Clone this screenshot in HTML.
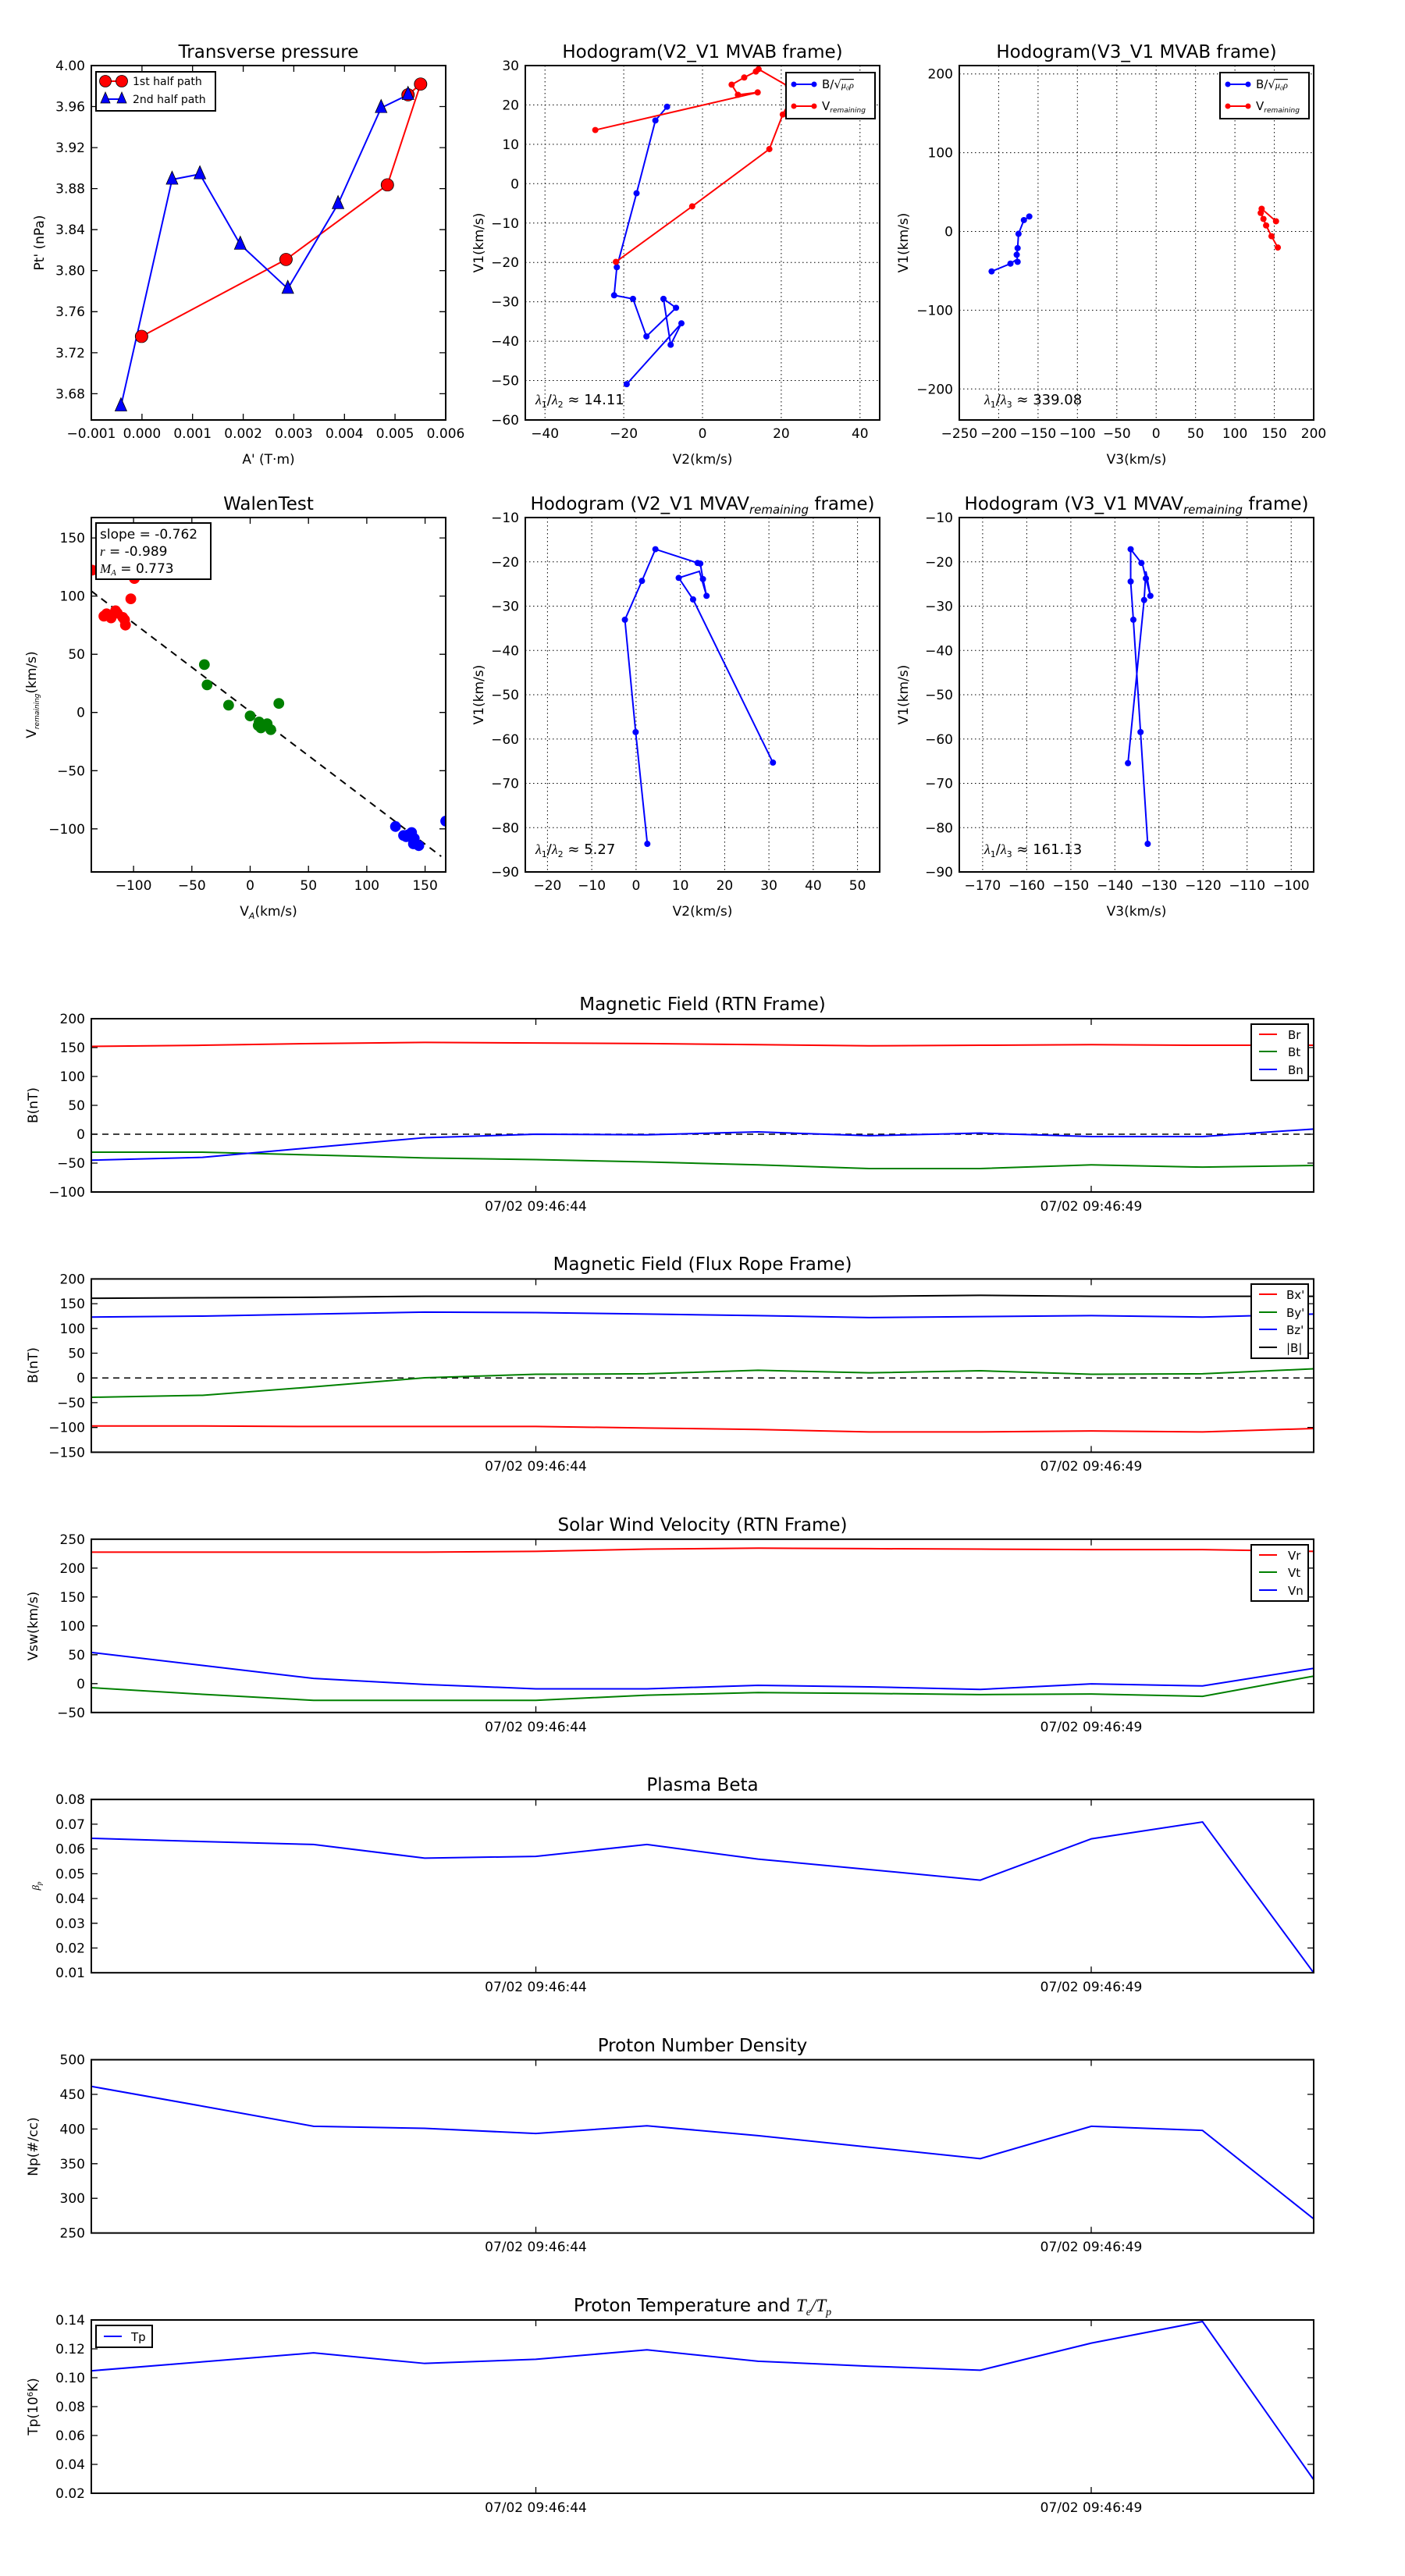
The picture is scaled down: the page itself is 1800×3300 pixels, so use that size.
<!DOCTYPE html>
<html><head><meta charset="utf-8"><style>
html,body{margin:0;padding:0;background:#fff}
svg{display:block}
text{font-family:"DejaVu Sans","Liberation Sans",sans-serif;fill:#000}
.t{font-size:17px}
.ti{font-size:23px;text-anchor:middle}
.lb{font-size:17px;text-anchor:middle}
.ax{fill:none;stroke:#000;stroke-width:2}
.tk{stroke:#000;stroke-width:1.3}
.gr{stroke:#000;stroke-width:1;stroke-dasharray:1.5,3.5}
.nl{vector-effect:non-scaling-stroke;fill:none;stroke-width:2}
</style></head><body>
<svg width="1800" height="3300" viewBox="0 0 1800 3300" xmlns="http://www.w3.org/2000/svg">
<defs>
<clipPath id="c1"><rect x="117" y="84" width="454" height="454"/></clipPath>
<clipPath id="c2"><rect x="673" y="84" width="454" height="454"/></clipPath>
<clipPath id="c3"><rect x="1229" y="84" width="454" height="454"/></clipPath>
<clipPath id="c4"><rect x="117" y="663" width="454" height="454"/></clipPath>
<clipPath id="c5"><rect x="673" y="663" width="454" height="454"/></clipPath>
<clipPath id="c6"><rect x="1229" y="663" width="454" height="454"/></clipPath>
<clipPath id="ct"><rect x="117" y="0" width="1566" height="3300"/></clipPath>
</defs>

<!-- ============ PANEL 1 ============ -->
<text class="ti" x="344" y="74">Transverse pressure</text>
<g class="tk">
<path d="M181.9,538v-8M246.7,538v-8M311.6,538v-8M376.4,538v-8M441.3,538v-8M506.1,538v-8M181.9,84v8M246.7,84v8M311.6,84v8M376.4,84v8M441.3,84v8M506.1,84v8"/>
<path d="M117,136.5h8M117,189.1h8M117,241.6h8M117,294.2h8M117,346.7h8M117,399.3h8M117,451.9h8M117,504.4h8M571,136.5h-8M571,189.1h-8M571,241.6h-8M571,294.2h-8M571,346.7h-8M571,399.3h-8M571,451.9h-8M571,504.4h-8"/>
</g>
<g class="t" text-anchor="middle">
<text x="117" y="561">−0.001</text><text x="181.9" y="561">0.000</text><text x="246.7" y="561">0.001</text><text x="311.6" y="561">0.002</text><text x="376.4" y="561">0.003</text><text x="441.3" y="561">0.004</text><text x="506.1" y="561">0.005</text><text x="571" y="561">0.006</text>
</g>
<g class="t" text-anchor="end">
<text x="109" y="90">4.00</text><text x="109" y="142.5">3.96</text><text x="109" y="195">3.92</text><text x="109" y="247.6">3.88</text><text x="109" y="300">3.84</text><text x="109" y="352.7">3.80</text><text x="109" y="405">3.76</text><text x="109" y="458">3.72</text><text x="109" y="510.4">3.68</text>
</g>
<text class="lb" x="344" y="594">A' (T·m)</text>
<text class="lb" transform="translate(56,311) rotate(-90)">Pt' (nPa)</text>
<g clip-path="url(#c1)"><g transform="translate(117,84) scale(1.1494,0.7643) translate(-102,-108)">
<polyline class="nl" stroke="#f00" points="158,562 319,433 432,308 469,139 455,157"/>
<polyline class="nl" stroke="#00f" points="455,157 425,179 377,340 321,482 268,408 223,290 192,299 135,679"/>
<g fill="#f00" stroke="#000" stroke-width="0.8" style="vector-effect:non-scaling-stroke">
<ellipse cx="158" cy="562" rx="6.96" ry="10.47"/><ellipse cx="319" cy="433" rx="6.96" ry="10.47"/><ellipse cx="432" cy="308" rx="6.96" ry="10.47"/><ellipse cx="469" cy="139" rx="6.96" ry="10.47"/><ellipse cx="455" cy="157" rx="6.96" ry="10.47"/>
</g>
<g fill="#00f" stroke="#000" stroke-width="0.8">
<polygon transform="translate(455,157)" points="0,-14 -6.5,8 6.5,8"/>
<polygon transform="translate(425,179)" points="0,-14 -6.5,8 6.5,8"/>
<polygon transform="translate(377,340)" points="0,-14 -6.5,8 6.5,8"/>
<polygon transform="translate(321,482)" points="0,-14 -6.5,8 6.5,8"/>
<polygon transform="translate(268,408)" points="0,-14 -6.5,8 6.5,8"/>
<polygon transform="translate(223,290)" points="0,-14 -6.5,8 6.5,8"/>
<polygon transform="translate(192,299)" points="0,-14 -6.5,8 6.5,8"/>
<polygon transform="translate(135,679)" points="0,-14 -6.5,8 6.5,8"/>
</g>
</g></g>
<rect class="ax" x="117" y="84" width="454" height="454"/>
<rect x="123" y="92" width="153" height="50" fill="#fff" stroke="#000" stroke-width="2"/>
<line x1="135" y1="104" x2="156" y2="104" stroke="#f00" stroke-width="2"/>
<circle cx="135" cy="104" r="7.5" fill="#f00" stroke="#000" stroke-width="0.8"/><circle cx="156" cy="104" r="7.5" fill="#f00" stroke="#000" stroke-width="0.8"/>
<line x1="135" y1="127" x2="156" y2="127" stroke="#00f" stroke-width="2"/>
<polygon points="135,118 129,132 141,132" fill="#00f" stroke="#000" stroke-width="0.8"/><polygon points="156,118 150,132 162,132" fill="#00f" stroke="#000" stroke-width="0.8"/>
<text x="170" y="109" style="font-size:14px">1st half path</text>
<text x="170" y="132" style="font-size:14px">2nd half path</text>

<!-- ============ PANEL 2 ============ -->
<text class="ti" x="900" y="74">Hodogram(V2_V1 MVAB frame)</text>
<g class="gr">
<path d="M698.2,84V538M799.1,84V538M900,84V538M1000.9,84V538M1101.8,84V538"/>
<path d="M673,134.4H1127M673,184.9H1127M673,235.3H1127M673,285.8H1127M673,336.2H1127M673,386.6H1127M673,437.1H1127M673,487.5H1127"/>
</g>
<g class="t" text-anchor="middle"><text x="698.2" y="561">−40</text><text x="799.1" y="561">−20</text><text x="900" y="561">0</text><text x="1000.9" y="561">20</text><text x="1101.8" y="561">40</text></g>
<g class="t" text-anchor="end"><text x="665" y="90">30</text><text x="665" y="140.4">20</text><text x="665" y="190.9">10</text><text x="665" y="241.3">0</text><text x="665" y="291.8">−10</text><text x="665" y="342.2">−20</text><text x="665" y="392.6">−30</text><text x="665" y="443.1">−40</text><text x="665" y="493.5">−50</text><text x="665" y="544">−60</text></g>
<text class="lb" x="900" y="594">V2(km/s)</text>
<text class="lb" transform="translate(619,311) rotate(-90)">V1(km/s)</text>
<g clip-path="url(#c2)"><g transform="translate(673,84) scale(1.1494,0.7643) translate(-586,-108)">
<polyline class="nl" stroke="#00f" points="744,177 731,200 710,322 688,446 685,493 706,499 721,562 754,514 740,499 748,576 760,540 699,642"/>
<polyline class="nl" stroke="#f00" points="664,216 845,153 823,157 816,140 830,128 843,118 846,114 876,140 880,170 873,190 858,248 772,344 687,437"/>
<g fill="#00f"><ellipse cx="744" cy="177" rx="3.5" ry="5.2"/><ellipse cx="731" cy="200" rx="3.5" ry="5.2"/><ellipse cx="710" cy="322" rx="3.5" ry="5.2"/><ellipse cx="688" cy="446" rx="3.5" ry="5.2"/><ellipse cx="685" cy="493" rx="3.5" ry="5.2"/><ellipse cx="706" cy="499" rx="3.5" ry="5.2"/><ellipse cx="721" cy="562" rx="3.5" ry="5.2"/><ellipse cx="754" cy="514" rx="3.5" ry="5.2"/><ellipse cx="740" cy="499" rx="3.5" ry="5.2"/><ellipse cx="748" cy="576" rx="3.5" ry="5.2"/><ellipse cx="760" cy="540" rx="3.5" ry="5.2"/><ellipse cx="699" cy="642" rx="3.5" ry="5.2"/></g>
<g fill="#f00"><ellipse cx="664" cy="216" rx="3.5" ry="5.2"/><ellipse cx="845" cy="153" rx="3.5" ry="5.2"/><ellipse cx="823" cy="157" rx="3.5" ry="5.2"/><ellipse cx="816" cy="140" rx="3.5" ry="5.2"/><ellipse cx="830" cy="128" rx="3.5" ry="5.2"/><ellipse cx="843" cy="118" rx="3.5" ry="5.2"/><ellipse cx="846" cy="114" rx="3.5" ry="5.2"/><ellipse cx="873" cy="190" rx="3.5" ry="5.2"/><ellipse cx="858" cy="248" rx="3.5" ry="5.2"/><ellipse cx="772" cy="344" rx="3.5" ry="5.2"/><ellipse cx="687" cy="437" rx="3.5" ry="5.2"/></g>
</g></g>
<rect class="ax" x="673" y="84" width="454" height="454"/>
<text x="686" y="518" style="font-size:18px"><tspan font-style="italic" font-family="Liberation Serif">λ</tspan><tspan font-size="11" dy="4">1</tspan><tspan dy="-4">/</tspan><tspan font-style="italic" font-family="Liberation Serif">λ</tspan><tspan font-size="11" dy="4">2</tspan><tspan dy="-4"> ≈ 14.11</tspan></text>
<rect x="1007" y="93" width="114" height="59" fill="#fff" stroke="#000" stroke-width="2"/>
<line x1="1017" y1="108" x2="1043" y2="108" stroke="#00f" stroke-width="2"/><circle cx="1017" cy="108" r="3.5" fill="#00f"/><circle cx="1043" cy="108" r="3.5" fill="#00f"/>
<line x1="1017" y1="136" x2="1043" y2="136" stroke="#f00" stroke-width="2"/><circle cx="1017" cy="136" r="3.5" fill="#f00"/><circle cx="1043" cy="136" r="3.5" fill="#f00"/>
<text x="1053" y="113" style="font-size:15px">B/√<tspan font-style="italic" font-size="12" font-family="Liberation Serif" text-decoration="overline">μ₀ρ</tspan></text>
<text x="1053" y="141" style="font-size:15px">V<tspan font-size="9" font-style="italic" dy="3">remaining</tspan></text>

<!-- ============ PANEL 3 ============ -->
<text class="ti" x="1456" y="74">Hodogram(V3_V1 MVAB frame)</text>
<g class="gr">
<path d="M1279.4,84V538M1329.9,84V538M1380.3,84V538M1430.8,84V538M1481.2,84V538M1531.7,84V538M1582.1,84V538M1632.6,84V538"/>
<path d="M1229,94.7H1683M1229,195.6H1683M1229,296.5H1683M1229,397.4H1683M1229,498.3H1683"/>
</g>
<g class="t" text-anchor="middle"><text x="1229" y="561">−250</text><text x="1279.4" y="561">−200</text><text x="1329.9" y="561">−150</text><text x="1380.3" y="561">−100</text><text x="1430.8" y="561">−50</text><text x="1481.2" y="561">0</text><text x="1531.7" y="561">50</text><text x="1582.1" y="561">100</text><text x="1632.6" y="561">150</text><text x="1683" y="561">200</text></g>
<g class="t" text-anchor="end"><text x="1221" y="100.7">200</text><text x="1221" y="201.6">100</text><text x="1221" y="302.5">0</text><text x="1221" y="403.4">−100</text><text x="1221" y="504.3">−200</text></g>
<text class="lb" x="1456" y="594">V3(km/s)</text>
<text class="lb" transform="translate(1163,311) rotate(-90)">V1(km/s)</text>
<g clip-path="url(#c3)"><g transform="translate(1229,84) scale(1.1494,0.7643) translate(-1070,-108)">
<polyline class="nl" stroke="#00f" points="1148,361 1142,367 1136,390 1135,414 1134,425 1135,437 1133,434 1127,440 1106,453"/>
<polyline class="nl" stroke="#f00" points="1423,369 1407,348 1406,355 1409,365 1412,376 1418,394 1425,413"/>
<g fill="#00f"><ellipse cx="1148" cy="361" rx="3.5" ry="5.2"/><ellipse cx="1142" cy="367" rx="3.5" ry="5.2"/><ellipse cx="1136" cy="390" rx="3.5" ry="5.2"/><ellipse cx="1135" cy="414" rx="3.5" ry="5.2"/><ellipse cx="1134" cy="425" rx="3.5" ry="5.2"/><ellipse cx="1135" cy="437" rx="3.5" ry="5.2"/><ellipse cx="1127" cy="440" rx="3.5" ry="5.2"/><ellipse cx="1106" cy="453" rx="3.5" ry="5.2"/></g>
<g fill="#f00"><ellipse cx="1423" cy="369" rx="3.5" ry="5.2"/><ellipse cx="1407" cy="348" rx="3.5" ry="5.2"/><ellipse cx="1406" cy="355" rx="3.5" ry="5.2"/><ellipse cx="1409" cy="365" rx="3.5" ry="5.2"/><ellipse cx="1412" cy="376" rx="3.5" ry="5.2"/><ellipse cx="1418" cy="394" rx="3.5" ry="5.2"/><ellipse cx="1425" cy="413" rx="3.5" ry="5.2"/></g>
</g></g>
<rect class="ax" x="1229" y="84" width="454" height="454"/>
<text x="1261" y="518" style="font-size:18px"><tspan font-style="italic" font-family="Liberation Serif">λ</tspan><tspan font-size="11" dy="4">1</tspan><tspan dy="-4">/</tspan><tspan font-style="italic" font-family="Liberation Serif">λ</tspan><tspan font-size="11" dy="4">3</tspan><tspan dy="-4"> ≈ 339.08</tspan></text>
<rect x="1563" y="93" width="114" height="59" fill="#fff" stroke="#000" stroke-width="2"/>
<line x1="1573" y1="108" x2="1599" y2="108" stroke="#00f" stroke-width="2"/><circle cx="1573" cy="108" r="3.5" fill="#00f"/><circle cx="1599" cy="108" r="3.5" fill="#00f"/>
<line x1="1573" y1="136" x2="1599" y2="136" stroke="#f00" stroke-width="2"/><circle cx="1573" cy="136" r="3.5" fill="#f00"/><circle cx="1599" cy="136" r="3.5" fill="#f00"/>
<text x="1609" y="113" style="font-size:15px">B/√<tspan font-style="italic" font-size="12" font-family="Liberation Serif" text-decoration="overline">μ₀ρ</tspan></text>
<text x="1609" y="141" style="font-size:15px">V<tspan font-size="9" font-style="italic" dy="3">remaining</tspan></text>

<!-- ============ PANEL 4 WALEN ============ -->
<text class="ti" x="344" y="653">WalenTest</text>
<g class="tk">
<path d="M171.1,1117v-8M245.8,1117v-8M320.5,1117v-8M395.2,1117v-8M469.9,1117v-8M544.6,1117v-8M171.1,663v8M245.8,663v8M320.5,663v8M395.2,663v8M469.9,663v8M544.6,663v8"/>
<path d="M117,689.1h8M117,763.6h8M117,838.2h8M117,912.7h8M117,987.3h8M117,1061.8h8M571,689.1h-8M571,763.6h-8M571,838.2h-8M571,912.7h-8M571,987.3h-8M571,1061.8h-8"/>
</g>
<g class="t" text-anchor="middle"><text x="171.1" y="1140">−100</text><text x="245.8" y="1140">−50</text><text x="320.5" y="1140">0</text><text x="395.2" y="1140">50</text><text x="469.9" y="1140">100</text><text x="544.6" y="1140">150</text></g>
<g class="t" text-anchor="end"><text x="109" y="695.1">150</text><text x="109" y="769.6">100</text><text x="109" y="844.2">50</text><text x="109" y="918.7">0</text><text x="109" y="993.3">−50</text><text x="109" y="1067.8">−100</text></g>
<text class="lb" x="344" y="1173">V<tspan font-size="11" font-style="italic" dy="4">A</tspan><tspan dy="-4">(km/s)</tspan></text>
<text class="lb" transform="translate(46,890) rotate(-90)">V<tspan font-size="9" font-style="italic" dy="4">remaining</tspan><tspan dy="-4">(km/s)</tspan></text>
<g clip-path="url(#c4)"><g transform="translate(117,663) scale(1.1494,0.7656) translate(-102,-865)">
<line class="nl" x1="102" y1="988" x2="492" y2="1432" stroke="#000" stroke-dasharray="9,7"/>
<g fill="#f00"><ellipse cx="103" cy="953" rx="6" ry="9"/><ellipse cx="116" cy="1030" rx="6" ry="9"/><ellipse cx="119" cy="1026" rx="6" ry="9"/><ellipse cx="124" cy="1033" rx="6" ry="9"/><ellipse cx="129" cy="1021" rx="6" ry="9"/><ellipse cx="131" cy="1025" rx="6" ry="9"/><ellipse cx="137" cy="1032" rx="6" ry="9"/><ellipse cx="140" cy="1045" rx="6" ry="9"/><ellipse cx="139" cy="1036" rx="6" ry="9"/><ellipse cx="146" cy="1001" rx="6" ry="9"/><ellipse cx="150" cy="967" rx="6" ry="9"/></g>
<g fill="#008000"><ellipse cx="228" cy="1111" rx="6" ry="9"/><ellipse cx="231" cy="1145" rx="6" ry="9"/><ellipse cx="255" cy="1179" rx="6" ry="9"/><ellipse cx="279" cy="1197" rx="6" ry="9"/><ellipse cx="289" cy="1207" rx="6" ry="9"/><ellipse cx="291" cy="1217" rx="6" ry="9"/><ellipse cx="298" cy="1210" rx="6" ry="9"/><ellipse cx="302" cy="1220" rx="6" ry="9"/><ellipse cx="311" cy="1176" rx="6" ry="9"/><ellipse cx="288" cy="1213" rx="6" ry="9"/></g>
<g fill="#00f"><ellipse cx="441" cy="1382" rx="6" ry="9"/><ellipse cx="450" cy="1397" rx="6" ry="9"/><ellipse cx="455" cy="1396" rx="6" ry="9"/><ellipse cx="459" cy="1392" rx="6" ry="9"/><ellipse cx="462" cy="1402" rx="6" ry="9"/><ellipse cx="463" cy="1410" rx="6" ry="9"/><ellipse cx="467" cy="1414" rx="6" ry="9"/><ellipse cx="497" cy="1373" rx="6" ry="9"/><ellipse cx="453" cy="1399" rx="6" ry="9"/><ellipse cx="461" cy="1411" rx="6" ry="9"/></g>
</g></g>
<rect class="ax" x="117" y="663" width="454" height="454"/>
<rect x="123" y="670" width="147" height="72" fill="#fff" stroke="#000" stroke-width="2"/>
<text x="128" y="690" style="font-size:17px">slope = -0.762</text>
<text x="128" y="712" style="font-size:17px"><tspan font-style="italic" font-family="Liberation Serif">r</tspan> = -0.989</text>
<text x="128" y="734" style="font-size:17px"><tspan font-style="italic" font-family="Liberation Serif">M<tspan font-size="11" dy="3">A</tspan></tspan><tspan dy="-3"> = 0.773</tspan></text>

<!-- ============ PANEL 5 ============ -->
<text class="ti" x="900" y="653">Hodogram (V2_V1 MVAV<tspan font-size="15" font-style="italic" dy="5">remaining</tspan><tspan dy="-5"> frame)</tspan></text>
<g class="gr">
<path d="M701.4,663V1117M758.1,663V1117M814.9,663V1117M871.6,663V1117M928.4,663V1117M985.1,663V1117M1041.9,663V1117M1098.6,663V1117"/>
<path d="M673,719.75H1127M673,776.5H1127M673,833.25H1127M673,890H1127M673,946.75H1127M673,1003.5H1127M673,1060.25H1127"/>
</g>
<g class="t" text-anchor="middle"><text x="701.4" y="1140">−20</text><text x="758.1" y="1140">−10</text><text x="814.9" y="1140">0</text><text x="871.6" y="1140">10</text><text x="928.4" y="1140">20</text><text x="985.1" y="1140">30</text><text x="1041.9" y="1140">40</text><text x="1098.6" y="1140">50</text></g>
<g class="t" text-anchor="end"><text x="665" y="669">−10</text><text x="665" y="725.75">−20</text><text x="665" y="782.5">−30</text><text x="665" y="839.25">−40</text><text x="665" y="896">−50</text><text x="665" y="952.75">−60</text><text x="665" y="1009.5">−70</text><text x="665" y="1066.25">−80</text><text x="665" y="1123">−90</text></g>
<text class="lb" x="900" y="1173">V2(km/s)</text>
<text class="lb" transform="translate(619,890) rotate(-90)">V1(km/s)</text>
<g clip-path="url(#c5)"><g transform="translate(673,663) scale(1.1494,0.7656) translate(-586,-865)">
<polyline class="nl" stroke="#00f" points="722,1411 709,1224 697,1036 716,971 731,918 778,941 781,942 784,968 788,996 780,955 757,966 773,1002 862,1275"/>
<g fill="#00f"><ellipse cx="722" cy="1411" rx="3.5" ry="5.2"/><ellipse cx="709" cy="1224" rx="3.5" ry="5.2"/><ellipse cx="697" cy="1036" rx="3.5" ry="5.2"/><ellipse cx="716" cy="971" rx="3.5" ry="5.2"/><ellipse cx="731" cy="918" rx="3.5" ry="5.2"/><ellipse cx="778" cy="941" rx="3.5" ry="5.2"/><ellipse cx="781" cy="942" rx="3.5" ry="5.2"/><ellipse cx="784" cy="968" rx="3.5" ry="5.2"/><ellipse cx="788" cy="996" rx="3.5" ry="5.2"/><ellipse cx="757" cy="966" rx="3.5" ry="5.2"/><ellipse cx="773" cy="1002" rx="3.5" ry="5.2"/><ellipse cx="862" cy="1275" rx="3.5" ry="5.2"/></g>
</g></g>
<rect class="ax" x="673" y="663" width="454" height="454"/>
<text x="686" y="1094" style="font-size:18px"><tspan font-style="italic" font-family="Liberation Serif">λ</tspan><tspan font-size="11" dy="4">1</tspan><tspan dy="-4">/</tspan><tspan font-style="italic" font-family="Liberation Serif">λ</tspan><tspan font-size="11" dy="4">2</tspan><tspan dy="-4"> ≈ 5.27</tspan></text>

<!-- ============ PANEL 6 ============ -->
<text class="ti" x="1456" y="653">Hodogram (V3_V1 MVAV<tspan font-size="15" font-style="italic" dy="5">remaining</tspan><tspan dy="-5"> frame)</tspan></text>
<g class="gr">
<path d="M1258.9,663V1117M1315.4,663V1117M1371.9,663V1117M1428.3,663V1117M1484.8,663V1117M1541.3,663V1117M1597.7,663V1117M1654.2,663V1117"/>
<path d="M1229,719.75H1683M1229,776.5H1683M1229,833.25H1683M1229,890H1683M1229,946.75H1683M1229,1003.5H1683M1229,1060.25H1683"/>
</g>
<g class="t" text-anchor="middle"><text x="1258.9" y="1140">−170</text><text x="1315.4" y="1140">−160</text><text x="1371.9" y="1140">−150</text><text x="1428.3" y="1140">−140</text><text x="1484.8" y="1140">−130</text><text x="1541.3" y="1140">−120</text><text x="1597.7" y="1140">−110</text><text x="1654.2" y="1140">−100</text></g>
<g class="t" text-anchor="end"><text x="1221" y="669">−10</text><text x="1221" y="725.75">−20</text><text x="1221" y="782.5">−30</text><text x="1221" y="839.25">−40</text><text x="1221" y="896">−50</text><text x="1221" y="952.75">−60</text><text x="1221" y="1009.5">−70</text><text x="1221" y="1066.25">−80</text><text x="1221" y="1123">−90</text></g>
<text class="lb" x="1456" y="1173">V3(km/s)</text>
<text class="lb" transform="translate(1163,890) rotate(-90)">V1(km/s)</text>
<g clip-path="url(#c6)"><g transform="translate(1229,663) scale(1.1494,0.7656) translate(-1070,-865)">
<polyline class="nl" stroke="#00f" points="1280,1411 1272,1224 1264,1036 1261,972 1261,918 1273,941 1274,942 1278,967 1283,996 1278,955 1276,1003 1258,1276"/>
<g fill="#00f"><ellipse cx="1280" cy="1411" rx="3.5" ry="5.2"/><ellipse cx="1272" cy="1224" rx="3.5" ry="5.2"/><ellipse cx="1264" cy="1036" rx="3.5" ry="5.2"/><ellipse cx="1261" cy="972" rx="3.5" ry="5.2"/><ellipse cx="1261" cy="918" rx="3.5" ry="5.2"/><ellipse cx="1273" cy="941" rx="3.5" ry="5.2"/><ellipse cx="1278" cy="967" rx="3.5" ry="5.2"/><ellipse cx="1283" cy="996" rx="3.5" ry="5.2"/><ellipse cx="1276" cy="1003" rx="3.5" ry="5.2"/><ellipse cx="1258" cy="1276" rx="3.5" ry="5.2"/></g>
</g></g>
<rect class="ax" x="1229" y="663" width="454" height="454"/>
<text x="1261" y="1094" style="font-size:18px"><tspan font-style="italic" font-family="Liberation Serif">λ</tspan><tspan font-size="11" dy="4">1</tspan><tspan dy="-4">/</tspan><tspan font-style="italic" font-family="Liberation Serif">λ</tspan><tspan font-size="11" dy="4">3</tspan><tspan dy="-4"> ≈ 161.13</tspan></text>

<!-- ============ TIME SERIES ============ -->
<!-- Plot 1 -->
<text class="ti" x="900" y="1294">Magnetic Field (RTN Frame)</text>
<g class="tk"><path d="M686.5,1527v-8M1398,1527v-8M686.5,1305v8M1398,1305v8M117,1342h8M117,1379h8M117,1416h8M117,1453h8M117,1490h8M1683,1342h-8M1683,1379h-8M1683,1416h-8M1683,1453h-8M1683,1490h-8"/></g>
<g class="t" text-anchor="end"><text x="109" y="1311">200</text><text x="109" y="1348">150</text><text x="109" y="1385">100</text><text x="109" y="1422">50</text><text x="109" y="1459">0</text><text x="109" y="1496">−50</text><text x="109" y="1533">−100</text></g>
<g class="t" text-anchor="middle"><text x="686.5" y="1551">07/02 09:46:44</text><text x="1398" y="1551">07/02 09:46:49</text></g>
<text class="lb" transform="translate(48,1416) rotate(-90)">B(nT)</text>
<line x1="117" y1="1453" x2="1683" y2="1453" stroke="#000" stroke-width="1.5" stroke-dasharray="8,6"/>
<g clip-path="url(#ct)"><g transform="translate(117,1305) scale(142.36,-0.74) translate(0,-200)">
<polyline class="nl" stroke="#f00" points="0,152 1,154 2,157 3,159 4,158 5,157 6,155 7,153 8,154 9,155 10,154 11,154"/>
<polyline class="nl" stroke="#008000" points="0,-31 1,-31 2,-36 3,-41 4,-44 5,-48 6,-53 7,-59.5 8,-59.5 9,-53 10,-57 11,-54"/>
<polyline class="nl" stroke="#00f" points="0,-45 1,-40 2,-23 3,-6 4,0 5,-1 6,4 7,-2.6 8,2 9,-4 10,-4 11,9"/>
</g></g>
<rect class="ax" x="117" y="1305" width="1566" height="222"/>
<rect x="1603" y="1312" width="73" height="72" fill="#fff" stroke="#000" stroke-width="2"/>
<path d="M1613,1325h23" stroke="#f00" stroke-width="2"/><path d="M1613,1347h23" stroke="#008000" stroke-width="2"/><path d="M1613,1370h23" stroke="#00f" stroke-width="2"/>
<g style="font-size:15px"><text x="1650" y="1331">Br</text><text x="1650" y="1353">Bt</text><text x="1650" y="1376">Bn</text></g>

<!-- Plot 2 -->
<text class="ti" x="900" y="1627">Magnetic Field (Flux Rope Frame)</text>
<g class="tk"><path d="M686.5,1860.4v-8M1398,1860.4v-8M686.5,1638.4v8M1398,1638.4v8M117,1670.1h8M117,1701.8h8M117,1733.5h8M117,1765.2h8M117,1796.9h8M117,1828.7h8M1683,1670.1h-8M1683,1701.8h-8M1683,1733.5h-8M1683,1765.2h-8M1683,1796.9h-8M1683,1828.7h-8"/></g>
<g class="t" text-anchor="end"><text x="109" y="1644.4">200</text><text x="109" y="1676.1">150</text><text x="109" y="1707.8">100</text><text x="109" y="1739.5">50</text><text x="109" y="1771.2">0</text><text x="109" y="1802.9">−50</text><text x="109" y="1834.7">−100</text><text x="109" y="1866.4">−150</text></g>
<g class="t" text-anchor="middle"><text x="686.5" y="1884">07/02 09:46:44</text><text x="1398" y="1884">07/02 09:46:49</text></g>
<text class="lb" transform="translate(48,1749) rotate(-90)">B(nT)</text>
<line x1="117" y1="1765.2" x2="1683" y2="1765.2" stroke="#000" stroke-width="1.5" stroke-dasharray="8,6"/>
<g clip-path="url(#ct)"><g transform="translate(117,1638.4) scale(142.36,-0.6343) translate(0,-200)">
<polyline class="nl" stroke="#f00" points="0,-97 1,-97 2,-98 3,-98 4,-98 5,-101 6,-104 7,-109 8,-109 9,-107 10,-109 11,-102"/>
<polyline class="nl" stroke="#008000" points="0,-39 1,-35 2,-18 3,0.4 4,7.5 5,8.4 6,15.5 7,10.4 8,14.5 9,7.5 10,8.4 11,18.5"/>
<polyline class="nl" stroke="#00f" points="0,123 1,125 2,129 3,133 4,132 5,129 6,126 7,122 8,124 9,126 10,123 11,129"/>
<polyline class="nl" stroke="#000" points="0,161 1,162 2,163 3,165 4,165 5,165 6,165 7,165 8,167 9,165 10,165 11,165"/>
</g></g>
<rect class="ax" x="117" y="1638.4" width="1566" height="222"/>
<rect x="1603" y="1645" width="73" height="95" fill="#fff" stroke="#000" stroke-width="2"/>
<path d="M1613,1658h23" stroke="#f00" stroke-width="2"/><path d="M1613,1681h23" stroke="#008000" stroke-width="2"/><path d="M1613,1703h23" stroke="#00f" stroke-width="2"/><path d="M1613,1726h23" stroke="#000" stroke-width="2"/>
<g style="font-size:15px"><text x="1648" y="1664">Bx'</text><text x="1648" y="1687">By'</text><text x="1648" y="1709">Bz'</text><text x="1648" y="1732">|B|</text></g>

<!-- Plot 3 -->
<text class="ti" x="900" y="1961">Solar Wind Velocity (RTN Frame)</text>
<g class="tk"><path d="M686.5,2193.8v-8M1398,2193.8v-8M686.5,1971.8v8M1398,1971.8v8M117,2008.8h8M117,2045.8h8M117,2082.8h8M117,2119.8h8M117,2156.8h8M1683,2008.8h-8M1683,2045.8h-8M1683,2082.8h-8M1683,2119.8h-8M1683,2156.8h-8"/></g>
<g class="t" text-anchor="end"><text x="109" y="1977.8">250</text><text x="109" y="2014.8">200</text><text x="109" y="2051.8">150</text><text x="109" y="2088.8">100</text><text x="109" y="2125.8">50</text><text x="109" y="2162.8">0</text><text x="109" y="2199.8">−50</text></g>
<g class="t" text-anchor="middle"><text x="686.5" y="2218">07/02 09:46:44</text><text x="1398" y="2218">07/02 09:46:49</text></g>
<text class="lb" transform="translate(48,2083) rotate(-90)">Vsw(km/s)</text>
<g clip-path="url(#ct)"><g transform="translate(117,1971.8) scale(142.36,-0.74) translate(0,-250)">
<polyline class="nl" stroke="#f00" points="0,227.6 1,227.6 2,227.6 3,227.6 4,229 5,232.8 6,234.5 7,233.6 8,232.8 9,232 10,232 11,229"/>
<polyline class="nl" stroke="#008000" points="0,-7 1,-18.5 2,-29 3,-29 4,-29 5,-20 6,-15.5 7,-17 8,-19 9,-18 10,-22 11,13"/>
<polyline class="nl" stroke="#00f" points="0,54 1,31.5 2,9 3,-1.4 4,-9 5,-9 6,-3 7,-5.6 8,-10 9,-0.5 10,-4 11,26.5"/>
</g></g>
<rect class="ax" x="117" y="1971.8" width="1566" height="222"/>
<rect x="1603" y="1979" width="73" height="72" fill="#fff" stroke="#000" stroke-width="2"/>
<path d="M1613,1992h23" stroke="#f00" stroke-width="2"/><path d="M1613,2014h23" stroke="#008000" stroke-width="2"/><path d="M1613,2037h23" stroke="#00f" stroke-width="2"/>
<g style="font-size:15px"><text x="1650" y="1998">Vr</text><text x="1650" y="2020">Vt</text><text x="1650" y="2043">Vn</text></g>

<!-- Plot 4 -->
<text class="ti" x="900" y="2294">Plasma Beta</text>
<g class="tk"><path d="M686.5,2527.2v-8M1398,2527.2v-8M686.5,2305.2v8M1398,2305.2v8M117,2336.9h8M117,2368.6h8M117,2400.4h8M117,2432.1h8M117,2463.8h8M117,2495.5h8M1683,2336.9h-8M1683,2368.6h-8M1683,2400.4h-8M1683,2432.1h-8M1683,2463.8h-8M1683,2495.5h-8"/></g>
<g class="t" text-anchor="end"><text x="109" y="2311.2">0.08</text><text x="109" y="2342.9">0.07</text><text x="109" y="2374.6">0.06</text><text x="109" y="2406.4">0.05</text><text x="109" y="2438.1">0.04</text><text x="109" y="2469.8">0.03</text><text x="109" y="2501.5">0.02</text><text x="109" y="2533.2">0.01</text></g>
<g class="t" text-anchor="middle"><text x="686.5" y="2551">07/02 09:46:44</text><text x="1398" y="2551">07/02 09:46:49</text></g>
<text class="lb" transform="translate(50,2416) rotate(-90)" style="font-size:13px;font-style:italic;font-family:'Liberation Serif',serif">β<tspan font-size="9" dy="3">p</tspan></text>
<g clip-path="url(#ct)"><g transform="translate(117,2305.2) scale(142.36,-3171.4) translate(0,-0.08)">
<polyline class="nl" stroke="#00f" points="0,0.0643 1,0.063 2,0.0618 3,0.0563 4,0.057 5,0.0618 6,0.0559 7,0.0517 8,0.0474 9,0.0641 10,0.0709 11,0.01"/>
</g></g>
<rect class="ax" x="117" y="2305.2" width="1566" height="222"/>

<!-- Plot 5 -->
<text class="ti" x="900" y="2628">Proton Number Density</text>
<g class="tk"><path d="M686.5,2860.6v-8M1398,2860.6v-8M686.5,2638.6v8M1398,2638.6v8M117,2683h8M117,2727.4h8M117,2771.8h8M117,2816.2h8M1683,2683h-8M1683,2727.4h-8M1683,2771.8h-8M1683,2816.2h-8"/></g>
<g class="t" text-anchor="end"><text x="109" y="2644.6">500</text><text x="109" y="2689">450</text><text x="109" y="2733.4">400</text><text x="109" y="2777.8">350</text><text x="109" y="2822.2">300</text><text x="109" y="2866.6">250</text></g>
<g class="t" text-anchor="middle"><text x="686.5" y="2884">07/02 09:46:44</text><text x="1398" y="2884">07/02 09:46:49</text></g>
<text class="lb" transform="translate(48,2750) rotate(-90)">Np(#/cc)</text>
<g clip-path="url(#ct)"><g transform="translate(117,2638.6) scale(142.36,-0.888) translate(0,-500)">
<polyline class="nl" stroke="#00f" points="0,461.5 1,433 2,404 3,401 4,393.5 5,404.7 6,390.4 7,373.9 8,357.3 9,404 10,398 11,270.4"/>
</g></g>
<rect class="ax" x="117" y="2638.6" width="1566" height="222"/>

<!-- Plot 6 -->
<text class="ti" x="900" y="2961">Proton Temperature and <tspan font-family="Liberation Serif" font-style="italic">T<tspan font-size="14" dy="5">e</tspan><tspan dy="-5">/T</tspan><tspan font-size="14" dy="5">p</tspan></tspan></text>
<g class="tk"><path d="M686.5,3194v-8M1398,3194v-8M686.5,2972v8M1398,2972v8M117,3009h8M117,3046h8M117,3083h8M117,3120h8M117,3157h8M1683,3009h-8M1683,3046h-8M1683,3083h-8M1683,3120h-8M1683,3157h-8"/></g>
<g class="t" text-anchor="end"><text x="109" y="2978">0.14</text><text x="109" y="3015">0.12</text><text x="109" y="3052">0.10</text><text x="109" y="3089">0.08</text><text x="109" y="3126">0.06</text><text x="109" y="3163">0.04</text><text x="109" y="3200">0.02</text></g>
<g class="t" text-anchor="middle"><text x="686.5" y="3218">07/02 09:46:44</text><text x="1398" y="3218">07/02 09:46:49</text></g>
<text class="lb" transform="translate(48,3083) rotate(-90)">Tp(10<tspan font-size="10" dy="-6">6</tspan><tspan dy="6">K)</tspan></text>
<g clip-path="url(#ct)"><g transform="translate(117,2972) scale(142.36,-1850) translate(0,-0.14)">
<polyline class="nl" stroke="#00f" points="0,0.1048 1,0.111 2,0.1172 3,0.1099 4,0.1128 5,0.1193 6,0.1114 7,0.108 8,0.1052 9,0.124 10,0.1389 11,0.0294"/>
</g></g>
<rect class="ax" x="117" y="2972" width="1566" height="222"/>
<rect x="123" y="2979" width="72" height="28" fill="#fff" stroke="#000" stroke-width="2"/>
<path d="M133,2993h23" stroke="#00f" stroke-width="2"/>
<text x="168" y="2999" style="font-size:15px">Tp</text>
</svg>
</body></html>
